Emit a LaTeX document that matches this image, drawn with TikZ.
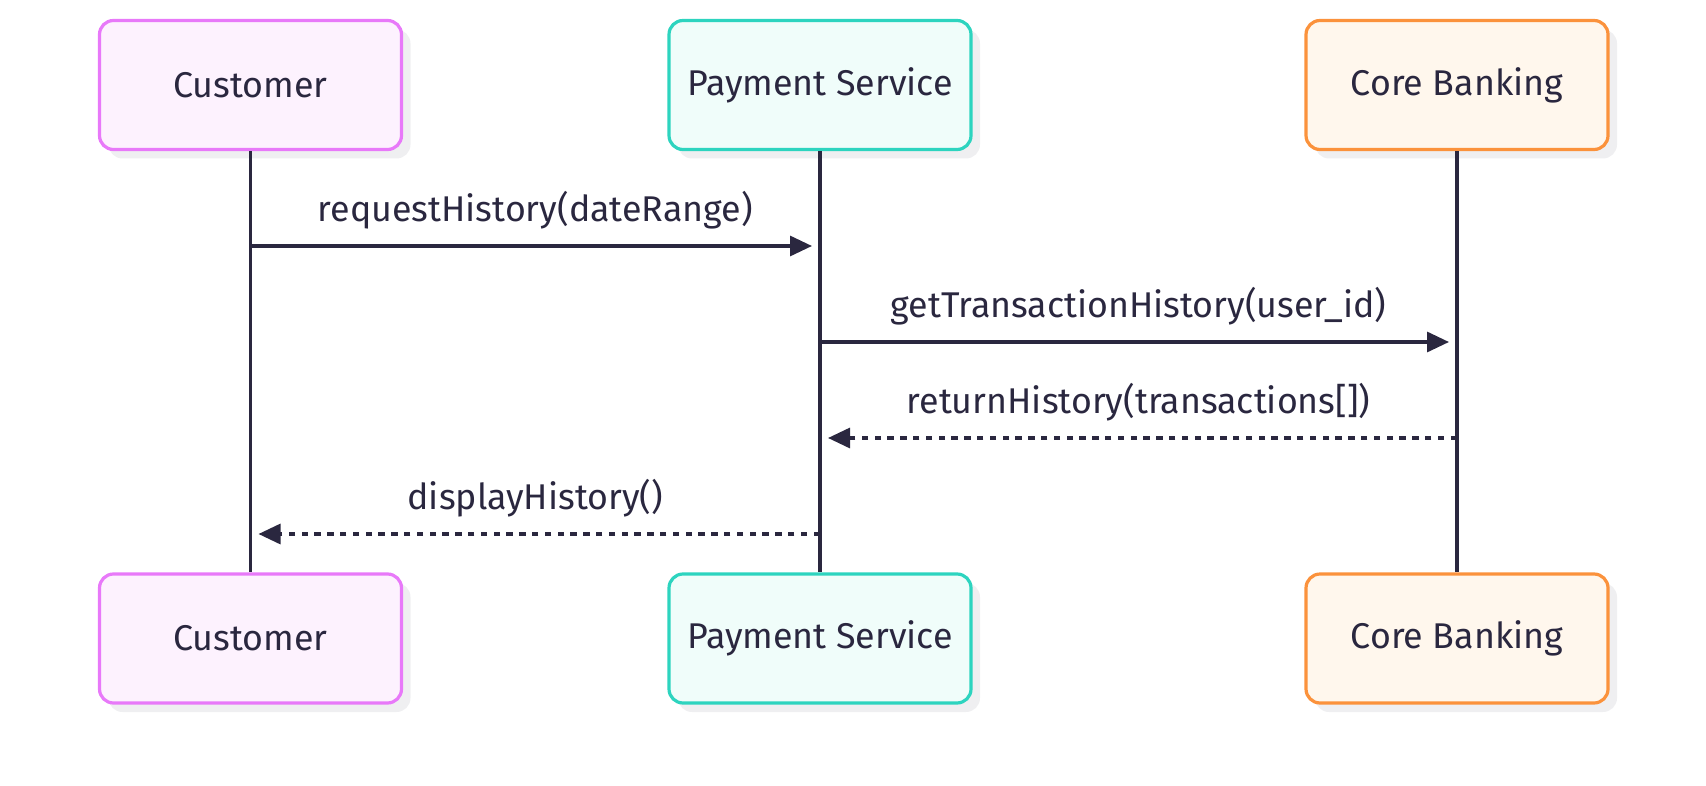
\documentclass[tikz,border=0pt]{standalone}
\usepackage{fontspec}
\setmainfont{Fira Sans}
\usetikzlibrary{arrows.meta,positioning,shadows}

\definecolor{ink}{HTML}{2A273F}
\definecolor{custline}{HTML}{E879F9}
\definecolor{custfill}{HTML}{FDF2FE}
\definecolor{payline}{HTML}{2DD4BF}
\definecolor{payfill}{HTML}{F0FDFA}
\definecolor{coreline}{HTML}{FB923C}
\definecolor{corefill}{HTML}{FFF7ED}
\definecolor{shade}{HTML}{EFEFF1}

\tikzset{
  actor/.style={draw, line width=1.6pt, rounded corners=7pt,
    minimum width=151pt, minimum height=64.5pt, text=ink,
    font=\fontsize{17.9}{21}\selectfont,
    drop shadow={shadow xshift=4.5pt, shadow yshift=-4.5pt, fill=shade, opacity=1}},
  customer/.style={actor, draw=custline, fill=custfill},
  payment/.style={actor, draw=payline, fill=payfill},
  core/.style={actor, draw=coreline, fill=corefill},
  lifeline/.style={draw=ink, line width=1.6pt},
  call/.style={draw=ink, line width=1.6pt, -{Triangle[length=11pt,width=10pt]}, shorten >=4pt},
  reply/.style={call, dash pattern=on 3.2pt off 3.2pt},
  msg/.style={text=ink, font=\fontsize{17.9}{21}\selectfont, yshift=18pt}
}

\begin{document}
\begin{tikzpicture}[x=0.5pt,y=-0.5pt]
   \useasboundingbox (0,0) rectangle (1706,786);
   % participants
   \node[customer] (cust) at (250.5,85) {Customer};
   \node[payment] (pay) at (820,85) {Payment Service};
   \node[core] (core) at (1457,85) {Core Banking};
   \node[customer] (custb) at (250.5,638.5) {Customer};
   \node[payment] (payb) at (820,638.5) {Payment Service};
   \node[core] (coreb) at (1457,638.5) {Core Banking};
   % lifelines
   \path[lifeline] (cust) -- (custb);
   \path[lifeline] (pay) -- (payb);
   \path[lifeline] (core) -- (coreb);
   % message points
   \coordinate (c1) at (250.5,246);
   \coordinate (p1) at (820,246);
   \coordinate (p2) at (820,342);
   \coordinate (k2) at (1457,342);
   \coordinate (k3) at (1457,438);
   \coordinate (p3) at (820,438);
   \coordinate (p4) at (820,534);
   \coordinate (c4) at (250.5,534);
   % messages
   \path[call] (c1) -- node[msg] {requestHistory(dateRange)} (p1);
   \path[call] (p2) -- node[msg] {getTransactionHistory(user\_id)} (k2);
   \path[reply] (k3) -- node[msg] {returnHistory(transactions[])} (p3);
   \path[reply] (p4) -- node[msg] {displayHistory()} (c4);
\end{tikzpicture}
\end{document}
